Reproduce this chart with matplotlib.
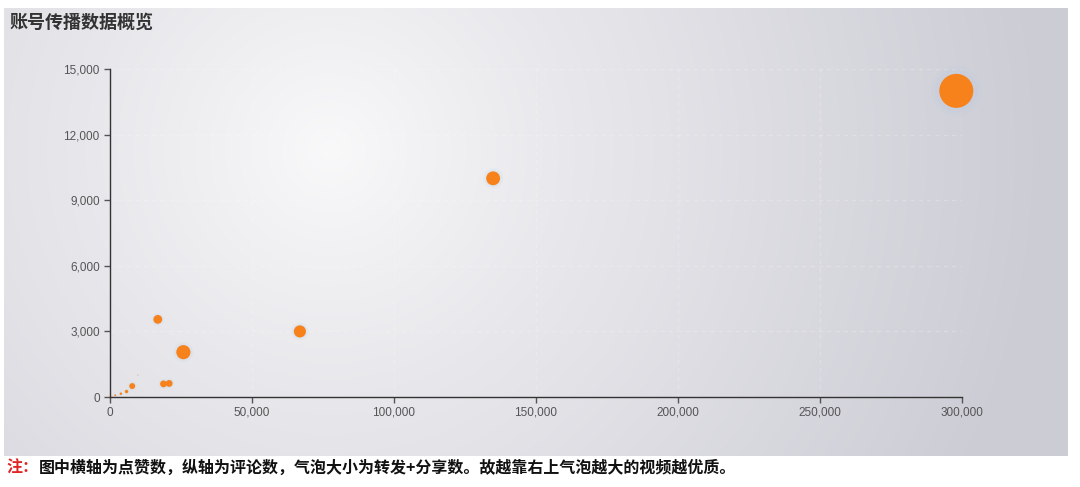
import numpy as np
import matplotlib
matplotlib.use("Agg")
import matplotlib.pyplot as plt
from matplotlib.ticker import FuncFormatter

plt.rcParams['font.family'] = ['Noto Sans CJK SC', 'DejaVu Sans']

# data: likes (x), comments (y), reposts+shares (bubble size)
likes = [298000, 135000, 67000, 26000, 17000, 19000, 21000, 8000, 6000, 4000, 2000, 800, 10000]
comments = [14000, 10000, 3000, 2050, 3550, 600, 620, 500, 250, 150, 80, 30, 1000]
shares = [15000, 2500, 1900, 2600, 1000, 600, 600, 450, 150, 80, 40, 20, 10]

x_ticks = [0, 50000, 100000, 150000, 200000, 250000, 300000]
y_ticks = [0, 3000, 6000, 9000, 12000, 15000]
title = "账号传播数据概览"
note_head = "注："
note_body = "图中横轴为点赞数，纵轴为评论数，气泡大小为转发+分享数。故越靠右上气泡越大的视频越优质。"

W, H = 1080, 487
fig = plt.figure(figsize=(W / 100, H / 100), dpi=100)
fig.patch.set_facecolor("white")

# gray panel with a soft radial highlight
bg = fig.add_axes([4 / W, 1 - 456 / H, (1068 - 4) / W, (456 - 8) / H])
bw, bh = 1064, 448
gx, gy = np.meshgrid(np.arange(bw), np.arange(bh))
d = np.sqrt((gx - 326) ** 2 + (gy - 142) ** 2)
t = np.clip(d / 720, 0, 1) ** 0.9
c0 = np.array([249, 249, 250]) / 255
c1 = np.array([204, 204, 213]) / 255
img = c0[None, None, :] * (1 - t[..., None]) + c1[None, None, :] * t[..., None]
bg.imshow(img, aspect="auto", interpolation="bilinear")
bg.axis("off")

ax = fig.add_axes([109.5 / W, 1 - 397 / H, (962 - 109.5) / W, (397 - 69) / H])
ax.patch.set_alpha(0)

# soft glow under the bubbles
s = np.array(shares) * 0.04
for k, a in [(2.2, 0.06), (1.6, 0.10)]:
    ax.scatter(likes, comments, s=s * k, color="#9fc4e6", alpha=a, linewidths=0,
               zorder=2, clip_on=False)
ax.scatter(likes, comments, s=s, color="#f7821b", linewidths=0, zorder=3, clip_on=False)

ax.set_xlim(0, 300000)
ax.set_ylim(0, 15000)
ax.set_xticks(x_ticks)
ax.set_yticks(y_ticks)
fmt = FuncFormatter(lambda v, p: f"{int(v):,}")
ax.xaxis.set_major_formatter(fmt)
ax.yaxis.set_major_formatter(fmt)
ax.grid(True, color="white", alpha=0.22, linestyle=(0, (3, 3)), linewidth=1, zorder=1)
for sp in ["top", "right"]:
    ax.spines[sp].set_visible(False)
for sp in ["left", "bottom"]:
    ax.spines[sp].set_color("#333333")
    ax.spines[sp].set_linewidth(1)
ax.tick_params(length=4, width=1, color="#555555", labelcolor="#555555",
               labelsize=8.5, pad=3)
for lab in ax.get_xticklabels() + ax.get_yticklabels():
    lab.set_family(["Liberation Sans", "DejaVu Sans"])

fig.text(9 / W, 1 - 22 / H, title, fontsize=13, fontweight="bold", color="#333333",
         va="center", ha="left")

tx = fig.text(6 / W, 1 - 468 / H, note_head, fontsize=11.5, fontweight="bold",
              color="#e02424", va="center", ha="left")
fig.canvas.draw()
bb = tx.get_window_extent()
fig.text((bb.x1 + 1) / W, 1 - 468 / H, note_body, fontsize=11.5, fontweight="bold",
         color="#111111", va="center", ha="left")

fig.savefig("out.png", dpi=100, facecolor="white")
